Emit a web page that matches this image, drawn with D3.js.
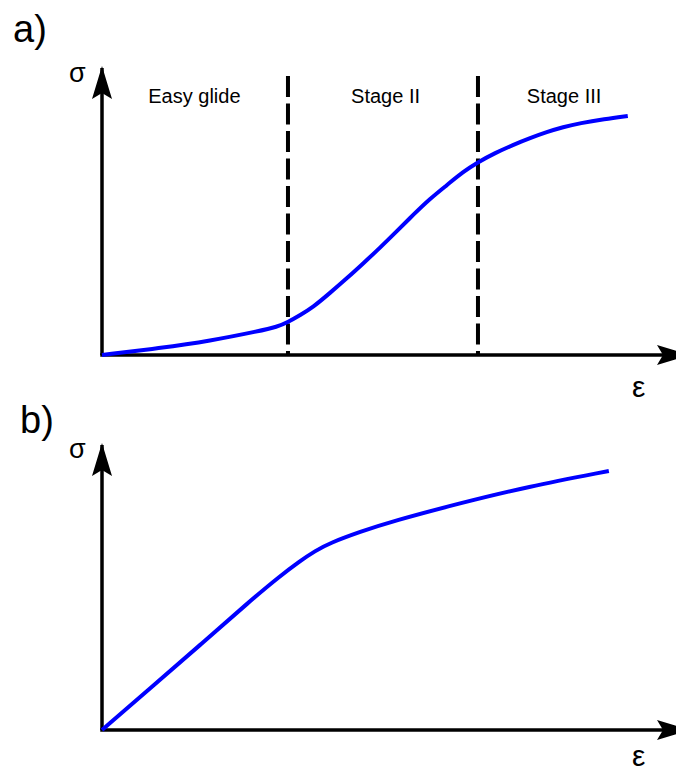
<!DOCTYPE html>
<html>
<head>
<meta charset="utf-8">
<script src="https://cdn.jsdelivr.net/npm/d3@7"></script>
<style>
  html, body { margin: 0; padding: 0; background: #fff; }
  svg { display: block; }
  text { font-family: "Liberation Sans", Arial, sans-serif; fill: #000; }
</style>
</head>
<body>
<svg id="chart" width="676" height="772"></svg>
<script>
// Panel a: single-crystal work hardening with three stages
const strainA = [0, 10.1, 18.8, 27.5, 30.5, 32.4, 34.5, 36.8, 39.7, 42.7, 45.6, 48.4, 51.4, 54.2,
                 57.1, 60.1, 62.9, 65.5, 68.5, 71.6, 74.6, 77.5, 80.3, 83.3, 87.5, 91.6];
const stressA = [0, 2.4, 4.9, 8.4, 9.8, 11.5, 13.9, 16.7, 21.6, 26.8, 32.1, 37.3, 43.2, 48.8,
                 54.4, 59.2, 63.8, 67.2, 70.4, 73.2, 75.6, 77.7, 79.4, 80.8, 82.2, 83.3];
// Stage boundaries (strain) and stage names
const stageBounds = [32.4, 65.5];
const stageNames = ["Easy glide", "Stage II", "Stage III"];
const stageCenters = [16.1, 49.4, 80.5];

// Panel b: polycrystal curve
const strainB = [0, 8.4, 17.1, 25.8, 31.0, 34.5, 37.1, 39.7, 44.9, 50.7, 62.4, 74.0, 88.3];
const stressB = [0, 14.7, 29.8, 45.3, 54.0, 59.3, 62.8, 65.6, 69.5, 73.3, 79.6, 85.3, 90.9];

const panelLabels = ["a)", "b)"];
const axisLabels = { y: "σ", x: "ε" };

const svg = d3.select("#chart");

// Shared strain scale; each panel has its own stress scale
const x = d3.scaleLinear().domain([0, 100]).range([102, 676]);
const yA = d3.scaleLinear().domain([0, 100]).range([355, 68]);
const yB = d3.scaleLinear().domain([0, 100]).range([730, 445]);

// Arrowhead marker with a notched back
const defs = svg.append("defs");
defs.append("marker")
  .attr("id", "arrow")
  .attr("viewBox", "0 0 33 20")
  .attr("refX", 31).attr("refY", 10)
  .attr("markerWidth", 33).attr("markerHeight", 20)
  .attr("markerUnits", "userSpaceOnUse")
  .attr("orient", "auto")
  .append("path")
  .attr("d", "M0,0 L33,10 L0,20 L6,10 Z")
  .attr("fill", "#000");

function drawPanel(g, y, xs, ys, label, labelPos, sigmaPos, epsPos, xEnd) {
  // axes
  g.append("line")
    .attr("x1", x(0)).attr("y1", y(0))
    .attr("x2", x(0)).attr("y2", y(100))
    .attr("stroke", "#000").attr("stroke-width", 3.5)
    .attr("marker-end", "url(#arrow)");
  g.append("line")
    .attr("x1", x(0) - 1.75).attr("y1", y(0))
    .attr("x2", xEnd).attr("y2", y(0))
    .attr("stroke", "#000").attr("stroke-width", 3.5)
    .attr("marker-end", "url(#arrow)");

  // curve
  const line = d3.line()
    .x(d => x(d[0])).y(d => y(d[1]))
    .curve(d3.curveBasis);
  g.append("path")
    .datum(xs.map((v, i) => [v, ys[i]]))
    .attr("d", line)
    .attr("fill", "none")
    .attr("stroke", "#0000ff")
    .attr("stroke-width", 4)
    .attr("stroke-linecap", "butt");

  // labels
  g.append("text").attr("x", labelPos[0]).attr("y", labelPos[1])
    .attr("font-size", 38).text(label);
  g.append("text").attr("x", sigmaPos[0]).attr("y", sigmaPos[1])
    .attr("font-size", 27).text(axisLabels.y);
  g.append("text").attr("x", epsPos[0]).attr("y", epsPos[1])
    .attr("font-size", 30).text(axisLabels.x);
}

const gA = svg.append("g");
// stage separators
gA.selectAll("line.stage")
  .data(stageBounds)
  .join("line")
  .attr("class", "stage")
  .attr("x1", d => x(d)).attr("x2", d => x(d))
  .attr("y1", 76).attr("y2", yA(0))
  .attr("stroke", "#000").attr("stroke-width", 4)
  .attr("stroke-dasharray", "21,6.5");
gA.selectAll("text.stage")
  .data(stageNames)
  .join("text")
  .attr("class", "stage")
  .attr("x", (d, i) => x(stageCenters[i]))
  .attr("y", 103)
  .attr("text-anchor", "middle")
  .attr("font-size", 20)
  .text(d => d);

drawPanel(gA, yA, strainA, stressA, panelLabels[0], [13, 42], [69, 82], [632, 397], 688);

const gB = svg.append("g");
drawPanel(gB, yB, strainB, stressB, panelLabels[1], [20, 433], [69, 458], [632, 766], 688);
</script>
</body>
</html>
